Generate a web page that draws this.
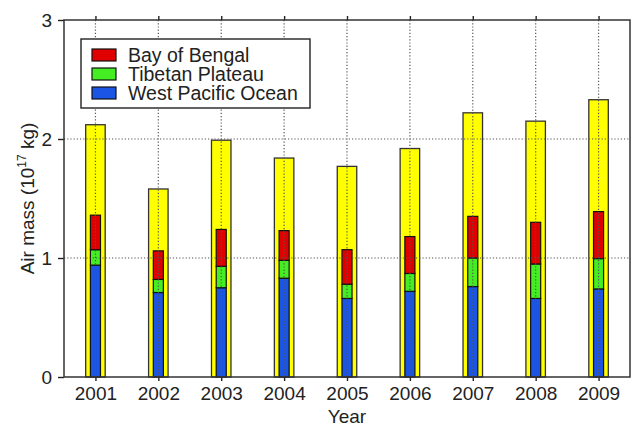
<!DOCTYPE html>
<html>
<head>
<meta charset="utf-8">
<script src="https://cdn.jsdelivr.net/npm/d3@7"></script>
<style>
  body { margin: 0; background: #fff; }
  svg { display: block; font-family: 'Liberation Sans', Arial, sans-serif; }
</style>
</head>
<body>
<div id="svg-container"></div>
<script>
const years = [2001, 2002, 2003, 2004, 2005, 2006, 2007, 2008, 2009];
const totalMass = [2.12, 1.58, 1.99, 1.84, 1.77, 1.92, 2.22, 2.15, 2.33];
const westPacific = [0.94, 0.71, 0.75, 0.83, 0.66, 0.72, 0.76, 0.66, 0.74];
const tibetanPlateau = [0.13, 0.11, 0.18, 0.15, 0.12, 0.15, 0.24, 0.29, 0.255];
const bayOfBengal = [0.29, 0.24, 0.31, 0.25, 0.29, 0.31, 0.35, 0.35, 0.395];
const yTicks = [0, 1, 2, 3];

const legendItems = [
  { name: 'Bay of Bengal', color: '#e00000' },
  { name: 'Tibetan Plateau', color: '#44ee22' },
  { name: 'West Pacific Ocean', color: '#1a55e6' },
];

const WIDTH = 632;
const HEIGHT = 426;
const LEFT_PADDING = 64;
const RIGHT_PADDING = 2;
const TOP_PADDING = 20;
const BOTTOM_PADDING = 49;

const drawChart = () => {
  const svg = d3.create('svg').attr('width', WIDTH).attr('height', HEIGHT);

  const xScale = d3
    .scaleLinear()
    .domain([years[0] - 0.5, years[years.length - 1] + 0.5])
    .range([LEFT_PADDING, WIDTH - RIGHT_PADDING]);
  const yScale = d3
    .scaleLinear()
    .domain([0, 3])
    .range([HEIGHT - BOTTOM_PADDING, TOP_PADDING]);

  const rows = years.map((year, i) => ({
    year,
    total: totalMass[i],
    west: westPacific[i],
    tibet: tibetanPlateau[i],
    bengal: bayOfBengal[i],
  }));
  const stacked = d3.stack().keys(['west', 'tibet', 'bengal'])(rows);
  const stackColors = {
    west: legendItems[2].color,
    tibet: legendItems[1].color,
    bengal: legendItems[0].color,
  };

  const outerHalf = 0.155;
  const innerHalf = 0.08;

  // yellow total bars
  svg
    .append('g')
    .selectAll('rect')
    .data(rows)
    .join('rect')
    .attr('x', (d) => xScale(d.year - outerHalf))
    .attr('width', (d) => xScale(d.year + outerHalf) - xScale(d.year - outerHalf))
    .attr('y', (d) => yScale(d.total))
    .attr('height', (d) => yScale(0) - yScale(d.total))
    .style('fill', '#ffff00')
    .style('stroke', '#333')
    .style('stroke-width', 1.3);

  // stacked regional bars
  svg
    .append('g')
    .selectAll('g')
    .data(stacked)
    .join('g')
    .style('fill', (s) => stackColors[s.key])
    .selectAll('rect')
    .data((s) => s)
    .join('rect')
    .attr('x', (d) => xScale(d.data.year - innerHalf))
    .attr('width', (d) => xScale(d.data.year + innerHalf) - xScale(d.data.year - innerHalf))
    .attr('y', (d) => yScale(d[1]))
    .attr('height', (d) => yScale(d[0]) - yScale(d[1]))
    .style('stroke', '#111')
    .style('stroke-width', 1.2);

  // dotted grid on top of bars
  const grid = svg
    .append('g')
    .style('stroke', '#555')
    .style('stroke-width', 1.2)
    .style('stroke-dasharray', '1.2,2');
  grid
    .selectAll('.vgrid')
    .data(years)
    .join('line')
    .attr('class', 'vgrid')
    .attr('x1', (d) => xScale(d))
    .attr('x2', (d) => xScale(d))
    .attr('y1', yScale(3))
    .attr('y2', yScale(0));
  grid
    .selectAll('.hgrid')
    .data([1, 2])
    .join('line')
    .attr('class', 'hgrid')
    .attr('x1', xScale.range()[0])
    .attr('x2', xScale.range()[1])
    .attr('y1', (d) => yScale(d))
    .attr('y2', (d) => yScale(d));

  // axes
  const axisBottom = d3
    .axisBottom(xScale)
    .tickValues(years)
    .tickFormat(d3.format('d'))
    .tickSize(4)
    .tickSizeOuter(0)
    .tickPadding(6);
  const axisTop = d3
    .axisTop(xScale)
    .tickValues(years)
    .tickFormat('')
    .tickSize(4)
    .tickSizeOuter(0);
  const axisLeft = d3
    .axisLeft(yScale)
    .tickValues(yTicks)
    .tickFormat(d3.format('d'))
    .tickSize(6)
    .tickSizeOuter(0)
    .tickPadding(6);

  const styleAxis = (g) => {
    g.select('.domain').remove();
    g.selectAll('line').style('stroke', '#222').style('stroke-width', 1.4);
    g.selectAll('text')
      .style('font-family', "'Liberation Sans', Arial, sans-serif")
      .style('font-size', '19px')
      .style('fill', '#222');
  };

  svg
    .append('g')
    .attr('transform', `translate(0, ${yScale(0)})`)
    .call(axisBottom)
    .call(styleAxis);
  svg
    .append('g')
    .attr('transform', `translate(0, ${yScale(3)})`)
    .call(axisTop)
    .call(styleAxis);
  svg
    .append('g')
    .attr('transform', `translate(${LEFT_PADDING}, 0)`)
    .call(axisLeft)
    .call(styleAxis);

  // frame
  svg
    .append('rect')
    .attr('x', xScale.range()[0])
    .attr('y', yScale(3))
    .attr('width', xScale.range()[1] - xScale.range()[0])
    .attr('height', yScale(0) - yScale(3))
    .style('fill', 'none')
    .style('stroke', '#333')
    .style('stroke-width', 1.5);

  // axis titles
  svg
    .append('text')
    .attr('x', (xScale.range()[0] + xScale.range()[1]) / 2)
    .attr('y', 423)
    .attr('text-anchor', 'middle')
    .style('font-size', '19px')
    .style('fill', '#222')
    .text('Year');

  const yTitle = svg
    .append('text')
    .attr('transform', `translate(34, ${(yScale(0) + yScale(3)) / 2}) rotate(-90)`)
    .attr('text-anchor', 'middle')
    .style('font-size', '19px')
    .style('fill', '#222');
  yTitle.append('tspan').text('Air mass (10');
  yTitle.append('tspan').attr('dy', -8).style('font-size', '12px').text('17');
  yTitle.append('tspan').attr('dy', 8).text(' kg)');

  // legend
  const legend = svg.append('g').attr('transform', 'translate(81, 39)');
  legend
    .append('rect')
    .attr('width', 229)
    .attr('height', 69)
    .style('fill', '#fff')
    .style('stroke', '#222')
    .style('stroke-width', 1.4);
  const entries = legend
    .selectAll('g')
    .data(legendItems)
    .join('g')
    .attr('transform', (_, i) => `translate(11, ${10 + i * 19})`);
  entries
    .append('rect')
    .attr('width', 24)
    .attr('height', 12)
    .style('fill', (d) => d.color)
    .style('stroke', '#111')
    .style('stroke-width', 1.2);
  entries
    .append('text')
    .attr('x', 36)
    .attr('y', 13)
    .style('font-size', '19.5px')
    .style('fill', '#222')
    .text((d) => d.name);

  document.getElementById('svg-container').appendChild(svg.node());
};

drawChart();
</script>
</body>
</html>
